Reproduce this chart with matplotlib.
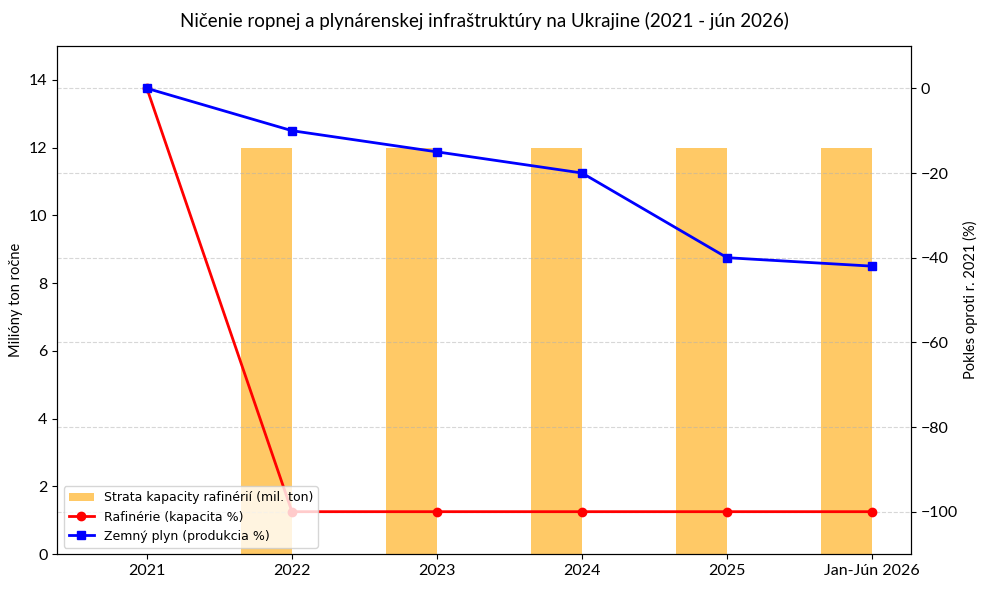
import numpy as np
import matplotlib.pyplot as plt

plt.rcParams['font.family'] = ['Lato', 'DejaVu Sans']

years = ["2021", "2022", "2023", "2024", "2025", "Jan-Jún 2026"]
refinery_loss = [0, 12, 12, 12, 12, 12]
refinery_pct = [0, -100, -100, -100, -100, -100]
gas_pct = [0, -10, -15, -20, -40, -42]

x = np.arange(len(years))
width = 0.35

fig, ax = plt.subplots(figsize=(9.89, 5.9), dpi=100)
bars = ax.bar(x - width / 2, refinery_loss, width, color='orange', alpha=0.6,
              label='Strata kapacity rafinérií (mil. ton)')
ax.set_ylim(0, 15)
ax.set_ylabel('Milióny ton ročne', fontsize=10.5)
ax.set_xticks(x)
ax.set_xticklabels(years, fontsize=11.5)
ax.tick_params(axis='y', labelsize=11.5)

ax2 = ax.twinx()
l1, = ax2.plot(x, refinery_pct, color='red', marker='o', lw=2,
               label='Rafinérie (kapacita %)')
l2, = ax2.plot(x, gas_pct, color='blue', marker='s', lw=2,
               label='Zemný plyn (produkcia %)')
ax2.set_ylim(-110, 10)
ax2.set_ylabel('Pokles oproti r. 2021 (%)', fontsize=10.5)
ax2.tick_params(axis='y', labelsize=11.5)
ax2.grid(True, linestyle='--', alpha=0.5)

ax2.legend([bars, l1, l2], [bars.get_label(), l1.get_label(), l2.get_label()],
           loc='lower left', prop={'family': 'DejaVu Sans', 'size': 9})

plt.title('Ničenie ropnej a plynárenskej infraštruktúry na Ukrajine (2021 - jún 2026)',
          fontsize=13.5, pad=14)
fig.subplots_adjust(left=0.058, right=0.921, top=0.922, bottom=0.061)
plt.savefig('out.png', dpi=100)
